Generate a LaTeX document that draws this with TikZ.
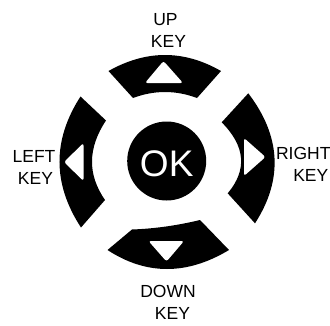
\documentclass[tikz,border=0pt]{standalone}
\usepackage{fontspec}
\setmainfont{Liberation Sans}
\begin{document}
\begin{tikzpicture}[x=1pt,y=-1pt,
  keyshape/.style={fill=black},
  arrowmark/.style={fill=white, rounded corners=2.5pt},
  lbl/.style={align=center, font=\fontsize{17.5}{22}\selectfont, inner sep=0pt, anchor=north}]
\useasboundingbox (0,0) rectangle (330,325);
\fill[white] (0,0) rectangle (330,325);
% up key
\fill[keyshape] (108.5,71) .. controls (146.33,49.67) and (183.83,49.67) .. (221,71)
  -- (197,98) .. controls (175.67,90) and (154.33,90) .. (133,98) -- cycle;
% down key
\fill[keyshape] (107.5,250) .. controls (146.33,275.33) and (186.83,275.33) .. (229,250)
  -- (200,220) .. controls (177.33,225.5) and (154.67,228.67) .. (132,229.5) -- cycle;
% left key
\fill[keyshape] (80.5,96.5) .. controls (52.33,140.17) and (52.5,183.83) .. (81,227.5)
  -- (105,200) .. controls (87.33,174.5) and (87.67,148) .. (106,120.5) -- cycle;
% right key
\fill[keyshape] (248.3,93.3) .. controls (281,136.23) and (283.23,179.57) .. (255,223.3)
  -- (227.7,193.3) .. controls (247.43,169.9) and (245.43,146.23) .. (221.7,122.3) -- cycle;
% arrow marks
\fill[arrowmark] (163.5,61) -- (183,83) -- (145,83) -- cycle;
\fill[arrowmark] (148.5,241) -- (184,241) -- (166.5,261.5) -- cycle;
\fill[arrowmark] (64,162) -- (83.5,143) -- (83.5,181) -- cycle;
\fill[arrowmark] (265.5,157) -- (244,138) -- (244,176) -- cycle;
% OK button
\node[circle, fill=black, minimum size=79pt, inner sep=0pt, text=white,
  font=\fontsize{37}{40}\selectfont, text height=30.7pt, text depth=0pt] (ok) at (166.7,161) {OK};
% labels
\node[lbl] (up) at (165.5,13) {UP\\\hspace*{6pt}KEY};
\node[lbl] (left) at (34,150) {LEFT\\\hspace*{3pt}KEY};
\node[lbl] (right) at (303.3,147) {RIGHT\\\hspace*{15pt}KEY};
\node[lbl] (down) at (168,285) {DOWN\\\hspace*{9pt}KEY};
\end{tikzpicture}
\end{document}
